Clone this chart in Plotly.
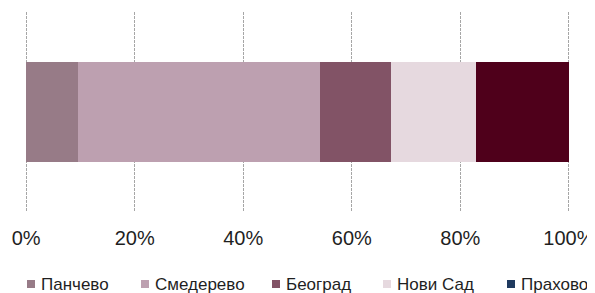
import plotly.graph_objects as go

categories = [""]
series_names = ["Панчево", "Смедерево", "Београд", "Нови Сад", "Прахово"]
series_values = [9.6, 44.5, 13.2, 15.5, 17.2]
bar_colors = ["#977b87", "#bda0b0", "#825366", "#e6d9df", "#4f001b"]
legend_colors = ["#977b87", "#bda0b0", "#825366", "#e6d9df", "#1f3a5f"]
tick_vals = [0, 20, 40, 60, 80, 100]
tick_text = ["0%", "20%", "40%", "60%", "80%", "100%"]

# page body has an 8px margin: size the figure so it ends at the window edge
OFF = 8
W, H = 595 - OFF, 293 - OFF
# plot area in window pixels: x 25..570, y 12..212
ML, MT = 25 - OFF, 12 - OFF
MR = 595 - 570
MB = 293 - 212
PW, PH = W - ML - MR, H - MT - MB

total = sum(series_values)
fig = go.Figure()
for name, v, bc in zip(series_names, series_values, bar_colors):
    fig.add_trace(go.Bar(
        y=categories, x=[v / total * 100], orientation="h", name=name,
        marker=dict(color=bc, line=dict(width=0)), showlegend=False,
        hovertemplate=name + ": %{x:.1f}%<extra></extra>",
    ))

# custom legend (Excel-style small square markers), positions in window pixels
legend_left_px = [27, 141, 272, 383, 507]
legend_y_px = 284
marker_size = 8

def px_x(px):
    return (px - OFF - ML) / PW

def px_y(py):
    return (H - MB - (py - OFF)) / PH

shapes, annotations = [], []
for name, col, lx in zip(series_names, legend_colors, legend_left_px):
    shapes.append(dict(
        type="rect", xref="paper", yref="paper",
        x0=px_x(lx), x1=px_x(lx + marker_size),
        y0=px_y(legend_y_px + marker_size / 2), y1=px_y(legend_y_px - marker_size / 2),
        fillcolor=col, line=dict(width=0), layer="above",
    ))
    annotations.append(dict(
        xref="paper", yref="paper", x=px_x(lx + marker_size + 5), y=px_y(legend_y_px),
        xanchor="left", yanchor="middle", text=name, showarrow=False,
        font=dict(size=17, color="#1f1f1f"), borderpad=0,
    ))

fig.update_layout(
    barmode="stack",
    bargap=0.5,
    width=W, height=H,
    margin=dict(l=ML, r=MR, t=MT, b=MB, autoexpand=False),
    paper_bgcolor="white", plot_bgcolor="white",
    font=dict(family="Liberation Sans, Arial, sans-serif", color="#1f1f1f"),
    xaxis=dict(
        range=[-0.2, 100.2], tickvals=tick_vals, ticktext=tick_text,
        showgrid=True, gridcolor="#a6a6a6", gridwidth=1, griddash="3px,1px",
        zeroline=False, showline=False, automargin=False,
        ticks="", ticklabelstandoff=12,
        tickfont=dict(size=20, color="#1f1f1f"),
        fixedrange=True,
    ),
    yaxis=dict(showticklabels=False, showgrid=False, zeroline=False,
               automargin=False, fixedrange=True),
    shapes=shapes,
    annotations=annotations,
    showlegend=False,
)

fig.write_html("out.html")
